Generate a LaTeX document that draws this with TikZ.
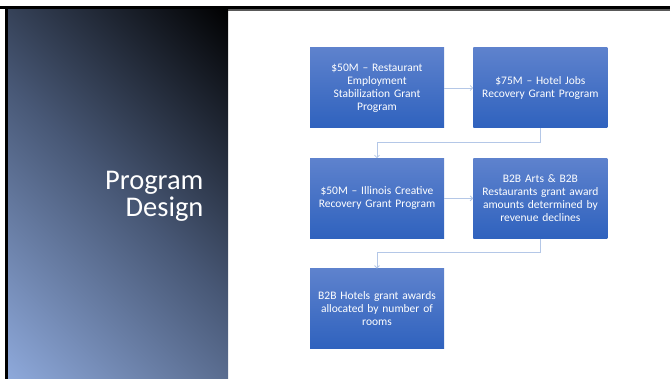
\documentclass[tikz,border=0pt]{standalone}
\usepackage{fontspec}
\setmainfont{Carlito}
\usepackage{tikz}
\usetikzlibrary{positioning, arrows.meta, calc}

\definecolor{boxtop}{RGB}{94,130,205}
\definecolor{boxbot}{RGB}{47,98,190}
\definecolor{linkblue}{RGB}{180,199,231}
\definecolor{panellight}{RGB}{143,170,220}
\definecolor{panelmid}{RGB}{72,88,118}

% side panel shading, light (bottom) to black (top)
\pgfdeclareverticalshading{panelshade}{100bp}{
  color(0bp)=(panellight); color(14bp)=(panellight); color(50bp)=(panelmid);
  color(86bp)=(black); color(100bp)=(black)}

\begin{document}
\begin{tikzpicture}[
    x = 1pt, y = -1pt,
    box/.style = {rectangle, minimum width = 134pt, minimum height = 80pt,
      top color = boxtop, bottom color = boxbot, text = white,
      text width = 132pt, align = center, inner sep = 0pt,
      font = \fontsize{11.5}{13}\selectfont},
    link/.style = {draw = linkblue, line width = 0.8pt,
      -{Straight Barb[length = 2.5pt, width = 5pt]}},
    node distance = 30pt and 29pt
  ]
  \useasboundingbox (0,0) rectangle (670,379);

  % Frame and side panel
  \fill[black] (0,6) rectangle (670,9.5);
  \fill[gray!70!black] (228,9.5) rectangle (670,11);
  \fill[black] (5,6) rectangle (8,379);
  \shade[shading = panelshade, shading angle = -45]
    (8,9.5) rectangle (228,379);
  \node[anchor = east, text = white, align = right,
    font = \fontsize{28.5}{27}\selectfont] (title) at (207,196)
    {Program\\Design};

  % Boxes
  \node[box] (rest) at (377,88)
    {\$50M -- Restaurant\\Employment\\Stabilization Grant\\Program};
  \node[box, right = of rest] (hotel)
    {\$75M -- Hotel Jobs\\Recovery Grant Program};
  \node[box, below = of rest] (creative)
    {\$50M -- Illinois Creative\\Recovery Grant Program};
  \node[box, right = of creative] (arts)
    {B2B Arts \& B2B\\Restaurants grant award\\amounts determined by\\revenue declines};
  \node[box, below = of creative] (rooms)
    {B2B Hotels grant awards\\allocated by number of\\rooms};

  % Connectors
  \draw[link] (rest) -- (hotel);
  \draw[link] (hotel.south) -- ++(0,14) -| (creative.north);
  \draw[link] (creative) -- (arts);
  \draw[link] (arts.south) -- ++(0,14) -| (rooms.north);

\end{tikzpicture}
\end{document}
